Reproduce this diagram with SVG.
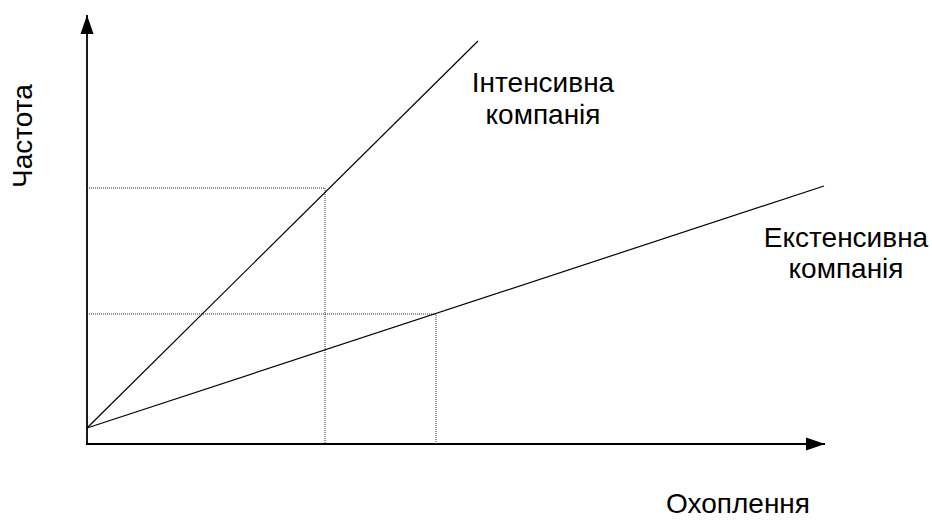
<svg xmlns="http://www.w3.org/2000/svg" width="932" height="521" viewBox="0 0 932 521">
  <style>
    .axis { stroke: #000; stroke-width: 1.8; fill: none; }
    .curve { stroke: #000; stroke-width: 1.2; fill: none; }
    .guide { stroke: #333; stroke-width: 1; stroke-dasharray: 1 1; fill: none; }
    .label { font-family: "Liberation Sans", Arial, sans-serif; font-size: 28px; fill: #000; }
  </style>
  <defs>
    <marker id="arrow" markerUnits="userSpaceOnUse" markerWidth="20" markerHeight="14" refX="19" refY="7" orient="auto">
      <path d="M0,0.5 L19,7 L0,13.5 Z" fill="#000"/>
    </marker>
  </defs>

  <!-- axes -->
  <g id="axes">
    <line class="axis" x1="87" y1="444" x2="87" y2="15" marker-end="url(#arrow)"/>
    <line class="axis" x1="86" y1="444" x2="825" y2="444" marker-end="url(#arrow)"/>
  </g>

  <!-- projection guides -->
  <g id="guides">
    <polyline class="guide" points="87,188 325,188 325,444"/>
    <polyline class="guide" points="87,314 436,314 436,444"/>
  </g>

  <!-- connectors: the two campaign lines -->
  <g id="connectors">
    <line class="curve" x1="87" y1="428" x2="478" y2="41"/>
    <line class="curve" x1="87" y1="428" x2="824" y2="186"/>
  </g>

  <g id="intensive">
    <text class="label" text-anchor="middle" x="543" y="92">Інтенсивна</text>
    <text class="label" text-anchor="middle" x="543" y="124">компанія</text>
  </g>

  <g id="extensive">
    <text class="label" text-anchor="middle" x="846" y="247">Екстенсивна</text>
    <text class="label" text-anchor="middle" x="846" y="278">компанія</text>
  </g>

  <g id="y-label">
    <text class="label" text-anchor="middle" transform="translate(32,136) rotate(-90)">Частота</text>
  </g>

  <g id="x-label">
    <text class="label" text-anchor="end" x="810" y="513">Охоплення</text>
  </g>
</svg>
